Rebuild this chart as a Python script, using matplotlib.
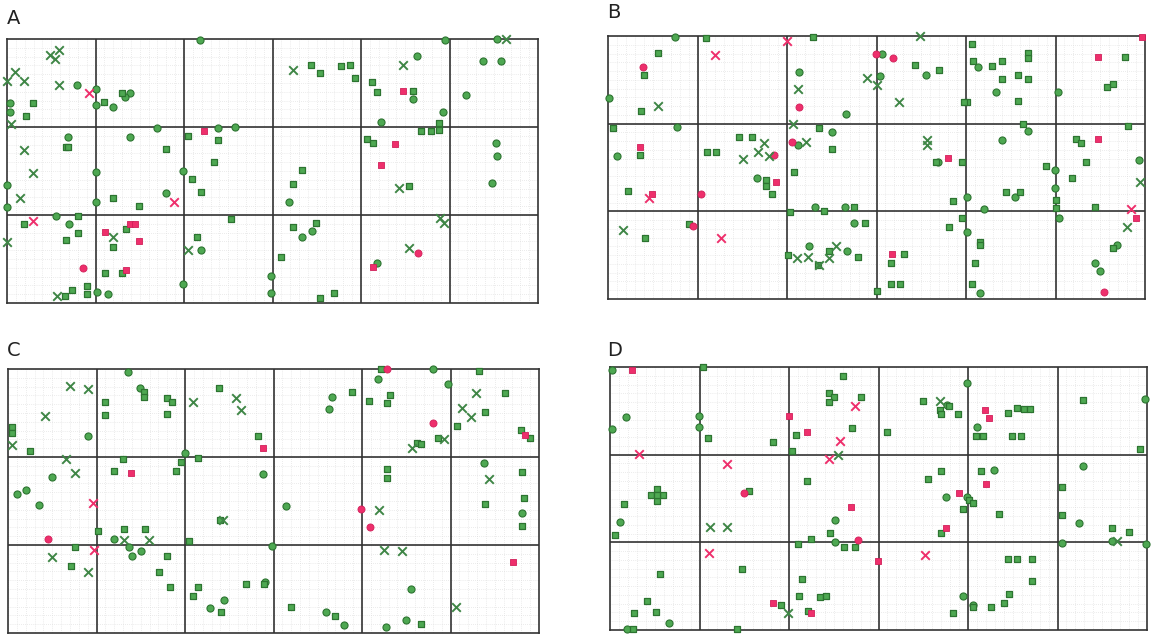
import numpy as np
import matplotlib
matplotlib.use("Agg")
import matplotlib.pyplot as plt

# === FIGURE ===
W, H = 1158, 636

# Panel A
A_circ_g = [(200,40),(445,40),(497,39),(417,56),(483,61),(501,61),(77,85),(96,89),(96,105),(113,107),
            (130,93),(125,97),(10,103),(10,112),(413,99),(466,95),(443,112),(381,122),(68,137),(130,137),
            (157,128),(218,128),(235,127),(496,143),(497,156),(492,183),(7,185),(7,207),(96,172),(96,202),
            (166,193),(183,171),(56,216),(69,224),(289,202),(302,237),(312,231),(201,250),(377,263),(97,292),
            (108,294),(183,284),(271,276),(271,293)]
A_sq_g = [(33,103),(26,116),(104,102),(122,93),(66,147),(68,147),(166,149),(188,136),(218,140),(214,162),
          (192,179),(201,192),(113,198),(139,206),(78,216),(24,224),(78,233),(66,240),(126,229),(113,247),
          (105,273),(122,273),(87,286),(87,294),(72,290),(65,296),(197,237),(231,219),(311,65),(320,73),
          (341,66),(350,65),(355,78),(372,82),(377,92),(413,91),(439,123),(439,130),(421,131),(431,131),
          (367,139),(373,143),(302,170),(293,184),(409,186),(293,227),(316,223),(281,257),(320,298),(334,293)]
A_x_g = [(50,55),(59,50),(55,59),(15,72),(7,81),(24,81),(59,85),(11,124),(24,150),(33,173),(20,198),
         (7,242),(113,237),(57,296),(188,250),(293,70),(403,65),(399,188),(440,218),(444,223),(409,248),(506,39)]
A_sq_p = [(204,131),(130,224),(135,224),(105,232),(139,241),(126,270),(403,91),(395,144),(381,165),(373,267)]
A_circ_p = [(83,268),(418,253)]
A_x_p = [(89,93),(33,221),(174,202)]

# Panel B
B_circ_g = [(675,37),(609,98),(677,127),(617,156),(799,72),(846,114),(832,132),(798,145),(757,178),(845,207),
            (815,207),(854,223),(809,246),(847,251),(882,54),(926,75),(978,67),(996,92),(1028,131),(1002,140),
            (1058,92),(1055,170),(1055,188),(1015,197),(984,209),(967,197),(967,232),(1139,160),(1095,263),
            (1100,271),(1117,245),(980,293),(880,76),(938,162),(1059,218)]
B_sq_g = [(706,38),(813,37),(658,53),(644,75),(641,111),(613,128),(640,155),(628,191),(739,137),(752,137),
          (707,152),(716,152),(794,172),(766,180),(766,186),(772,194),(819,128),(832,149),(824,211),(854,207),
          (865,223),(790,212),(689,224),(645,238),(788,255),(829,251),(858,257),(877,291),(818,265),(915,65),
          (939,70),(972,44),(973,61),(992,66),(1002,61),(1028,53),(1028,58),(1018,75),(1028,79),(1002,79),
          (1018,101),(967,102),(964,102),(1125,57),(1107,87),(1113,84),(1023,124),(1128,126),(1076,139),
          (1081,143),(1086,162),(1072,178),(1046,166),(936,162),(962,162),(1006,192),(1020,192),(953,201),
          (962,218),(949,227),(1056,200),(1056,208),(1095,207),(980,242),(980,245),(975,263),(972,284),
          (904,254),(891,263),(891,284),(900,284),(1113,248)]
B_x_g = [(658,106),(798,89),(793,124),(806,142),(764,143),(758,152),(743,159),(769,156),(623,230),(797,258),
         (808,257),(829,258),(836,246),(819,265),(867,78),(920,36),(899,102),(927,140),(927,145),(1140,182),
         (1127,227),(877,85)]
B_circ_p = [(643,67),(799,107),(792,142),(774,155),(701,194),(876,54),(693,226),(893,58),(1104,292)]
B_sq_p = [(640,147),(776,182),(652,194),(1142,37),(1098,57),(1098,139),(948,158),(892,254),(1136,218)]
B_x_p = [(715,55),(787,41),(649,198),(721,238),(1131,209)]

# Panel C
C_circ_g = [(128,372),(140,388),(88,436),(52,477),(17,494),(26,490),(39,505),(185,453),(263,474),(114,539),
            (129,547),(132,556),(141,551),(210,608),(224,600),(272,546),(265,582),(332,397),(329,409),(378,379),
            (433,369),(448,384),(484,463),(522,513),(286,506),(411,589),(326,612),(344,625),(386,627),(406,620)]
C_sq_g = [(144,392),(144,397),(105,402),(105,415),(167,398),(172,402),(167,414),(219,388),(12,427),(12,433),
          (30,451),(123,459),(114,471),(176,471),(181,462),(198,458),(258,436),(98,531),(124,529),(145,529),
          (189,541),(75,547),(71,566),(167,556),(159,572),(170,587),(198,587),(193,596),(221,612),(246,584),
          (264,584),(220,520),(381,369),(479,371),(352,392),(369,401),(390,395),(387,403),(505,393),(485,412),
          (457,426),(521,430),(530,438),(438,438),(417,443),(421,444),(387,469),(387,478),(522,472),(524,498),
          (522,526),(485,504),(291,607),(335,616),(421,624)]
C_x_g = [(70,386),(88,389),(45,416),(12,445),(66,459),(75,473),(124,540),(149,540),(52,557),(88,572),
         (193,402),(236,398),(241,410),(223,520),(476,393),(462,408),(471,417),(444,439),(412,448),(489,479),
         (379,510),(384,550),(402,551),(456,607)]
C_circ_p = [(48,539),(387,369),(433,423),(361,509),(370,527)]
C_sq_p = [(131,473),(263,448),(525,435),(513,562)]
C_x_p = [(93,503),(94,550)]

# Panel D
D_circ_g = [(612,370),(626,417),(612,429),(699,416),(699,427),(620,522),(669,623),(835,520),(835,542),(627,629),
            (967,383),(1145,399),(977,427),(994,470),(946,497),(1083,466),(1079,523),(1062,543),(1146,544),
            (963,596),(973,605),(1112,541),(967,497),(947,405)]
D_sq_g = [(703,367),(708,438),(773,442),(796,435),(843,376),(829,393),(834,397),(829,402),(861,397),(852,428),
          (792,451),(807,481),(749,491),(624,504),(615,535),(811,539),(830,533),(844,547),(855,547),(798,544),
          (742,569),(660,574),(802,579),(799,596),(820,597),(826,596),(781,605),(808,611),(647,601),(656,612),
          (634,613),(737,629),(633,629),(657,489),(651,495),(663,495),(657,501),(657,495),
          (923,401),(940,410),(949,406),(941,414),(958,414),(1008,413),(1017,408),(1024,409),(1030,409),
          (887,432),(976,436),(983,436),(1012,436),(1021,436),(1083,400),(1140,449),(941,471),(928,479),
          (981,471),(969,500),(973,503),(963,509),(999,514),(941,533),(1062,487),(1062,515),(1112,528),
          (1129,532),(1008,559),(1017,559),(1032,559),(1032,581),(1009,594),(1004,603),(991,607),(973,607),
          (953,613)]
D_x_g = [(838,455),(710,527),(727,527),(788,613),(940,401),(1117,541)]
D_circ_p = [(744,493),(858,540)]
D_sq_p = [(632,370),(789,416),(807,432),(851,507),(878,561),(773,603),(811,613),(985,410),(989,418),
          (986,484),(959,493),(946,528)]
D_x_p = [(639,454),(727,464),(840,441),(829,459),(855,406),(709,553),(925,555)]

# === LAYOUT: frame extents (x0, x1, y0, y1) and label positions ===
panels = [
    ("A", (7, 538, 39, 303), (14, 18),
     A_circ_g, A_sq_g, A_x_g, A_circ_p, A_sq_p, A_x_p),
    ("B", (608, 1145, 36, 299), (614, 13),
     B_circ_g, B_sq_g, B_x_g, B_circ_p, B_sq_p, B_x_p),
    ("C", (8, 539, 369, 633), (14, 350),
     C_circ_g, C_sq_g, C_x_g, C_circ_p, C_sq_p, C_x_p),
    ("D", (610, 1147, 367, 630), (615, 350),
     D_circ_g, D_sq_g, D_x_g, D_circ_p, D_sq_p, D_x_p),
]

GREEN = "#4ea852"
GREEN_EDGE = "#2d7431"
GREEN_X = "#3f8646"
PINK = "#ee2f6c"
PINK_EDGE = "#d0205a"

fig = plt.figure(figsize=(W / 100, H / 100), dpi=100)
fig.patch.set_facecolor("white")


def draw(ax, pts, marker, face, edge, size, lw):
    if not pts:
        return
    arr = np.array(pts, dtype=float)
    if marker == "x":
        ax.scatter(arr[:, 0], arr[:, 1], marker="x", s=size, c=face, linewidths=lw,
                   zorder=5, clip_on=False)
    else:
        ax.scatter(arr[:, 0], arr[:, 1], marker=marker, s=size, c=face, edgecolors=edge,
                   linewidths=lw, zorder=4, clip_on=False)


for name, (x0, x1, y0, y1), (lx, ly), cg, sg, xg, cp, sp, xp in panels:
    ax = fig.add_axes([x0 / W, 1 - y1 / H, (x1 - x0) / W, (y1 - y0) / H])
    ax.set_xlim(x0, x1)
    ax.set_ylim(y1, y0)
    ax.set_xticks([])
    ax.set_yticks([])

    # fine grid (10 per cell) then the coarse 6 x 3 grid
    ax.vlines(np.linspace(x0, x1, 61), y0, y1, colors="#d9d9d9", linewidth=0.5,
              linestyles=(0, (1, 2)), zorder=1)
    ax.hlines(np.linspace(y0, y1, 31), x0, x1, colors="#d9d9d9", linewidth=0.5,
              linestyles=(0, (1, 2)), zorder=1)
    ax.vlines(np.linspace(x0, x1, 7)[1:-1], y0, y1, colors="#333333", linewidth=1.2, zorder=2)
    ax.hlines(np.linspace(y0, y1, 4)[1:-1], x0, x1, colors="#333333", linewidth=1.2, zorder=2)
    for sp_ in ax.spines.values():
        sp_.set_color("#333333")
        sp_.set_linewidth(1.2)

    draw(ax, cg, "o", GREEN, GREEN_EDGE, 26, 0.8)
    draw(ax, sg, "s", GREEN, GREEN_EDGE, 24, 0.9)
    draw(ax, xg, "x", GREEN_X, None, 38, 1.4)
    draw(ax, cp, "o", PINK, PINK_EDGE, 26, 0.6)
    draw(ax, sp, "s", PINK, PINK_EDGE, 24, 0.6)
    draw(ax, xp, "x", PINK, None, 38, 1.4)

    fig.text(lx / W, 1 - ly / H, name, fontsize=14, color="#222222",
             ha="center", va="center", family="DejaVu Sans")

fig.savefig("out.png", dpi=100, facecolor="white")
